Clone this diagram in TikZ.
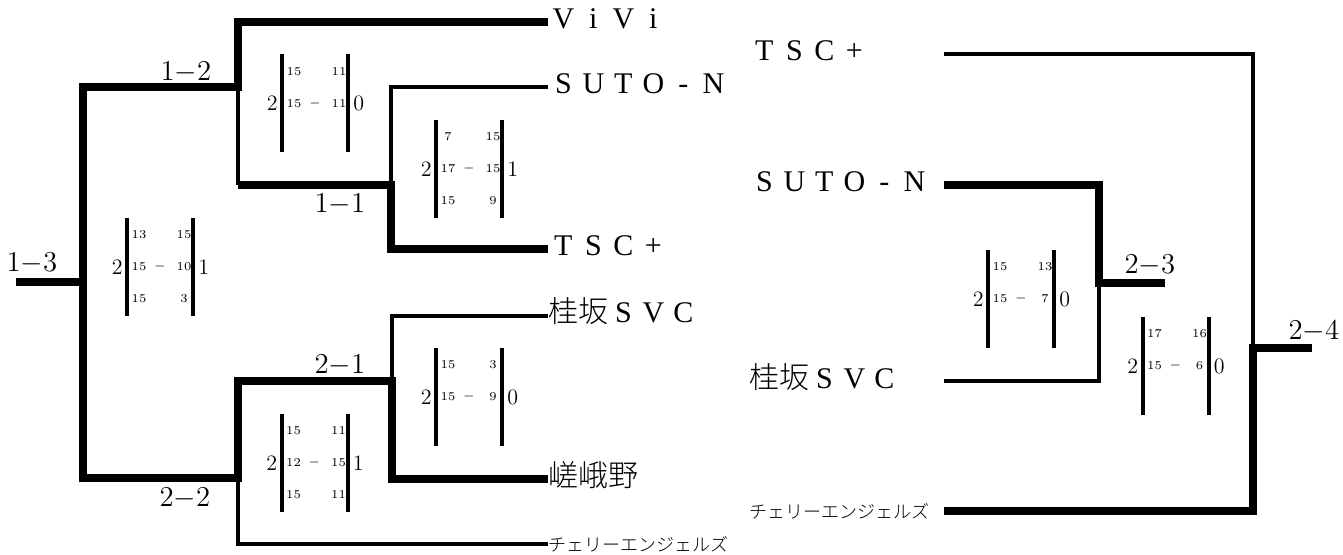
\documentclass[tikz,border=0pt]{standalone}
\usepackage{fontspec}
\newfontfamily\jpfont{Noto Sans CJK JP Light}
\newfontfamily\latinfont{Liberation Serif}
\usepackage{tikz}
\usetikzlibrary{calc}

% full-width cells for the latin team names
\newcommand{\zen}[1]{\zenchars#1\zenend}
\def\zenend{\relax}
\def\zenchars#1{\ifx#1\zenend\else\makebox[1em]{\latinfont#1}\expandafter\zenchars\fi}
\newcommand{\match}[2]{$#1{-}#2$}

\tikzset{
  win/.style={line width=3.8pt},
  lose/.style={line width=1.6pt},
  bar/.style={line width=2pt},
  team/.style={anchor=west, inner sep=0pt, text height=0.7em, text depth=0pt, font=\fontsize{15}{18}\selectfont},
  teamR/.style={team, text width=97pt, align=left},
  cherry/.style={font=\jpfont\fontsize{9}{11}\selectfont},
  round/.style={inner sep=0pt, font=\fontsize{14}{17}\selectfont},
  pts/.style={inner sep=0pt, font=\fontsize{6}{7}\selectfont},
  setnum/.style={inner sep=0pt, font=\fontsize{11}{13}\selectfont},
}

% #1 name, #2 centre, #3 half width, #4/#5 sets, #6 points a/b
\newcommand{\scoreboard}[6]{%
  \begin{scope}[shift={(#2)}]
    \draw[bar] (-#3,-49) -- (-#3,49);
    \draw[bar] (#3,-49) -- (#3,49);
    \node[setnum, anchor=east] (#1-l) at (-#3-4,0) {#4};
    \node[setnum, anchor=west] (#1-r) at (#3+5,0) {#5};
    \node[pts] (#1-m) at (0,0) {$-$};
    \foreach \a/\b [count=\i] in {#6} {
      \node[pts] (#1-a\i) at (-#3+12,{(\i-2)*32}) {\a};
      \node[pts] (#1-b\i) at (#3-9,{(\i-2)*32}) {\b};
    }
  \end{scope}}

\begin{document}
\begin{tikzpicture}[x=0.5pt,y=-0.5pt]
  \useasboundingbox (0,0) rectangle (1343,555);

  % Teams, left bracket
  \node[team] (vivi) at (548,22) {\zen{ViVi}};
  \node[team] (sutoL) at (548,87) {\zen{SUTO-N}};
  \node[team] (tscL) at (548,249) {\zen{TSC+}};
  \node[team] (katsuraL) at (548,316) {{\jpfont 桂坂}\zen{SVC}};
  \node[team] (sagano) at (548,479) {\jpfont 嵯峨野};
  \node[team, cherry] (cherryL) at (548,544) {チェリーエンジェルズ};

  % Teams, right bracket
  \node[teamR] (tscR) at (749,54) {\zen{TSC+}};
  \node[teamR] (sutoR) at (749,185) {\zen{SUTO-N}};
  \node[teamR] (katsuraR) at (749,381) {{\jpfont 桂坂}\zen{SVC}};
  \node[teamR, cherry] (cherryR) at (749,511) {チェリーエンジェルズ};

  % Junctions
  \coordinate (r13) at (16,282);
  \coordinate (j13) at (83,282);
  \coordinate (j12) at (238,87);
  \coordinate (j22) at (238,478);
  \coordinate (j11) at (391,185);
  \coordinate (j21) at (392,381);
  \coordinate (j23) at (1099,283);
  \coordinate (r23) at (1165,283);
  \coordinate (j24) at (1253,348);
  \coordinate (r24) at (1312,348);

  % Left bracket
  \draw[win] (vivi.west) -| (j12) -| (j13) -- (r13);
  \draw[win] (j13) |- (j22) |- (j21) |- (sagano.west);
  \draw[lose] (j12) -- (j12 |- j11);
  \draw[win] (j12 |- j11) -- (j11) |- (tscL.west);
  \draw[lose] (j11) |- (sutoL.west);
  \draw[lose] (j21) |- (katsuraL.west);
  \draw[lose] (j22) |- (cherryL.west);

  % Right bracket
  \draw[win] (sutoR.east) -| (j23) -- (r23);
  \draw[lose] (katsuraR.east) -| (j23);
  \draw[win] (cherryR.east) -| (j24) -- (r24);
  \draw[lose] (tscR.east) -| (j24);

  % Match numbers
  \node[round] (m13) at (32,263) {\match{1}{3}};
  \node[round] (m12) at (186,72) {\match{1}{2}};
  \node[round] (m11) at (340,204) {\match{1}{1}};
  \node[round] (m21) at (340,365) {\match{2}{1}};
  \node[round] (m22) at (185,498) {\match{2}{2}};
  \node[round] (m23) at (1150,265) {\match{2}{3}};
  \node[round] (m24) at (1314,331) {\match{2}{4}};

  % Scores
  \scoreboard{s12}{315,103.5}{33}{2}{0}{15/11,15/11}
  \scoreboard{s11}{469,169}{33}{2}{1}{7/15,17/15,15/9}
  \scoreboard{s13}{160,267}{33}{2}{1}{13/15,15/10,15/3}
  \scoreboard{s21}{469,397}{33}{2}{0}{15/3,15/9}
  \scoreboard{s22}{314.5,463}{33}{2}{1}{15/11,12/15,15/11}
  \scoreboard{s23}{1021,299}{33}{2}{0}{15/13,15/7}
  \scoreboard{s24}{1175.5,366}{33}{2}{0}{17/16,15/6}
\end{tikzpicture}
\end{document}
